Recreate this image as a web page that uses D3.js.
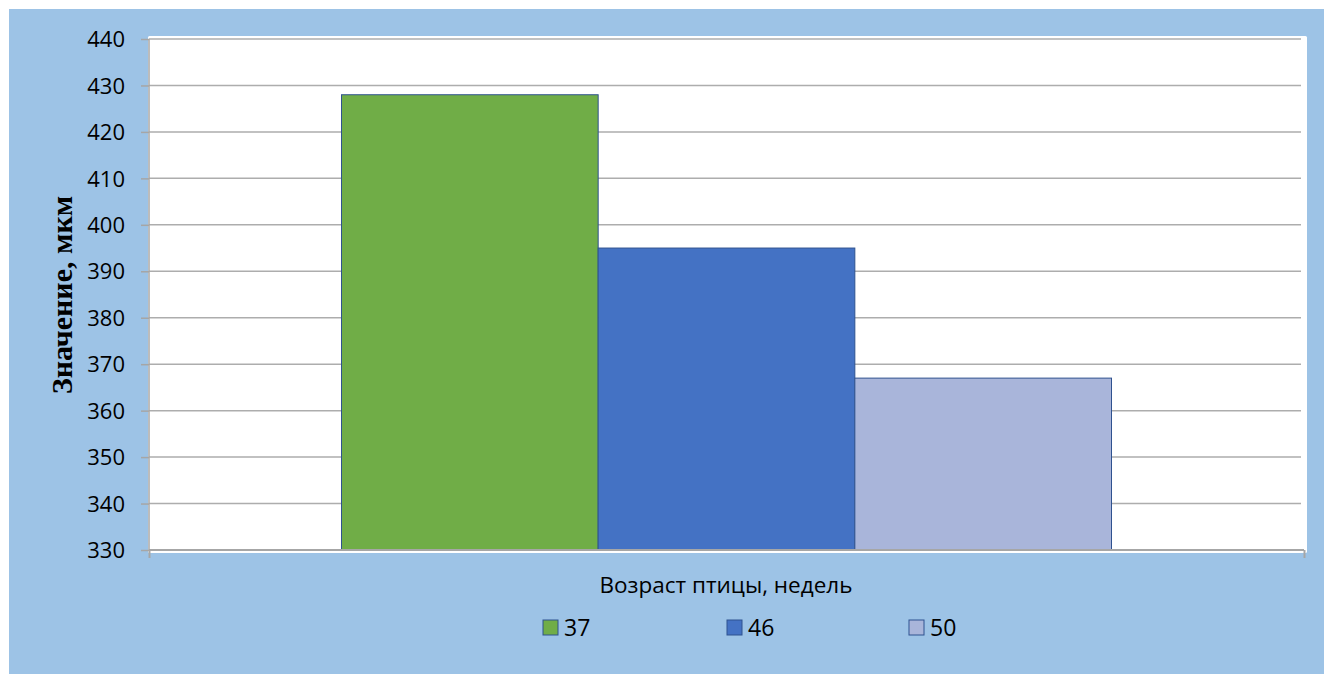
<!DOCTYPE html>
<html>
<head>
<meta charset="utf-8">
<script src="https://cdn.jsdelivr.net/npm/d3@7"></script>
<style>
  html, body { margin: 0; padding: 0; background: #ffffff; }
  svg { display: block; }
</style>
</head>
<body>
<svg id="chart" width="1324" height="674"></svg>
<script>
// Series: bird age in weeks, one bar each
const seriesNames = ["37", "46", "50"];
const seriesValues = [428, 395, 367];
const seriesColors = ["#70AD47", "#4472C4", "#A9B5DA"];
const yTicks = [330, 340, 350, 360, 370, 380, 390, 400, 410, 420, 430, 440];
const yTitle = "Значение, мкм";
const xTitle = "Возраст птицы, недель";

const svg = d3.select("#chart");
const W = 1324, H = 674;

// Outer panel
svg.append("rect").attr("x", 9).attr("y", 9).attr("width", W - 9).attr("height", H - 9)
  .attr("fill", "#9DC3E6");

// Plot area
const plot = { left: 149, right: 1304, top: 39, bottom: 550 };
svg.append("rect").attr("x", 148).attr("y", 36).attr("width", 1307 - 148).attr("height", 553 - 36)
  .attr("fill", "#ffffff").attr("rx", 1.5);

const y = d3.scaleLinear().domain([330, 440]).range([plot.bottom, plot.top]);
const xBand = d3.scaleBand().domain(["g"]).range([plot.left, plot.right]).paddingInner(0).paddingOuter(0);
// group of three bars with 150% gap width
const groupW = xBand.bandwidth() * 3 / 4.5;
const xSeries = d3.scaleBand().domain(seriesNames)
  .range([xBand("g") + (xBand.bandwidth() - groupW) / 2, xBand("g") + (xBand.bandwidth() + groupW) / 2]);

// Gridlines
svg.append("g").selectAll("line").data(yTicks.filter(t => t !== 330)).join("line")
  .attr("x1", plot.left).attr("x2", 1301)
  .attr("y1", d => y(d)).attr("y2", d => y(d))
  .attr("stroke", "#ADADAD").attr("stroke-width", 1.5);

// Bars
svg.append("g").selectAll("rect").data(seriesValues).join("rect")
  .attr("x", (d, i) => xSeries(seriesNames[i]))
  .attr("y", d => y(d))
  .attr("width", xSeries.bandwidth())
  .attr("height", d => y(330) - y(d))
  .attr("fill", (d, i) => seriesColors[i])
  .attr("stroke", "#2F528F").attr("stroke-width", 1);

// Y axis
const yAxis = svg.append("g").attr("transform", `translate(${plot.left},0)`)
  .call(d3.axisLeft(y).tickValues(yTicks).tickSize(8).tickPadding(16).tickFormat(d3.format("d")));
yAxis.select(".domain").attr("stroke", "#A6A6A6").attr("stroke-width", 1.5)
  .attr("d", `M0,${plot.top}V${plot.bottom}`);
yAxis.selectAll(".tick line").attr("stroke", "#A6A6A6").attr("stroke-width", 1.5);
yAxis.selectAll(".tick text").attr("fill", "#000").style("font-family", "'Open Sans', sans-serif")
  .style("font-size", "22px").attr("dy", "0.35em");

// X axis baseline with end ticks
const xAxis = svg.append("g").attr("transform", `translate(0,${plot.bottom})`)
  .call(d3.axisBottom(d3.scaleLinear().domain([0, 1]).range([plot.left, plot.right]))
    .tickValues([0, 1]).tickSize(8).tickFormat(""));
xAxis.select(".domain").attr("stroke", "#A6A6A6").attr("stroke-width", 2)
  .attr("d", `M${plot.left},0H${plot.right}`);
xAxis.selectAll(".tick line").attr("stroke", "#A6A6A6").attr("stroke-width", 2);

// Axis titles
svg.append("text")
  .attr("transform", `translate(72,295) rotate(-90)`)
  .attr("text-anchor", "middle")
  .style("font-family", "'Liberation Serif', 'Times New Roman', serif")
  .style("font-weight", "bold").style("font-size", "30px")
  .text(yTitle);

svg.append("text")
  .attr("x", 726).attr("y", 593)
  .attr("text-anchor", "middle")
  .style("font-family", "'Open Sans', sans-serif").style("font-size", "22.5px")
  .text(xTitle);

// Legend
const legendX = [543, 727, 909];
const leg = svg.append("g").selectAll("g").data(seriesNames).join("g")
  .attr("transform", (d, i) => `translate(${legendX[i]},620)`);
leg.append("rect").attr("width", 15).attr("height", 15)
  .attr("fill", (d, i) => seriesColors[i]).attr("stroke", "#2F528F").attr("stroke-width", 1);
leg.append("text").attr("x", 21).attr("y", 7.5).attr("dy", "0.36em")
  .style("font-family", "'Open Sans', sans-serif").style("font-size", "23px")
  .text(d => d);
</script>
</body>
</html>
